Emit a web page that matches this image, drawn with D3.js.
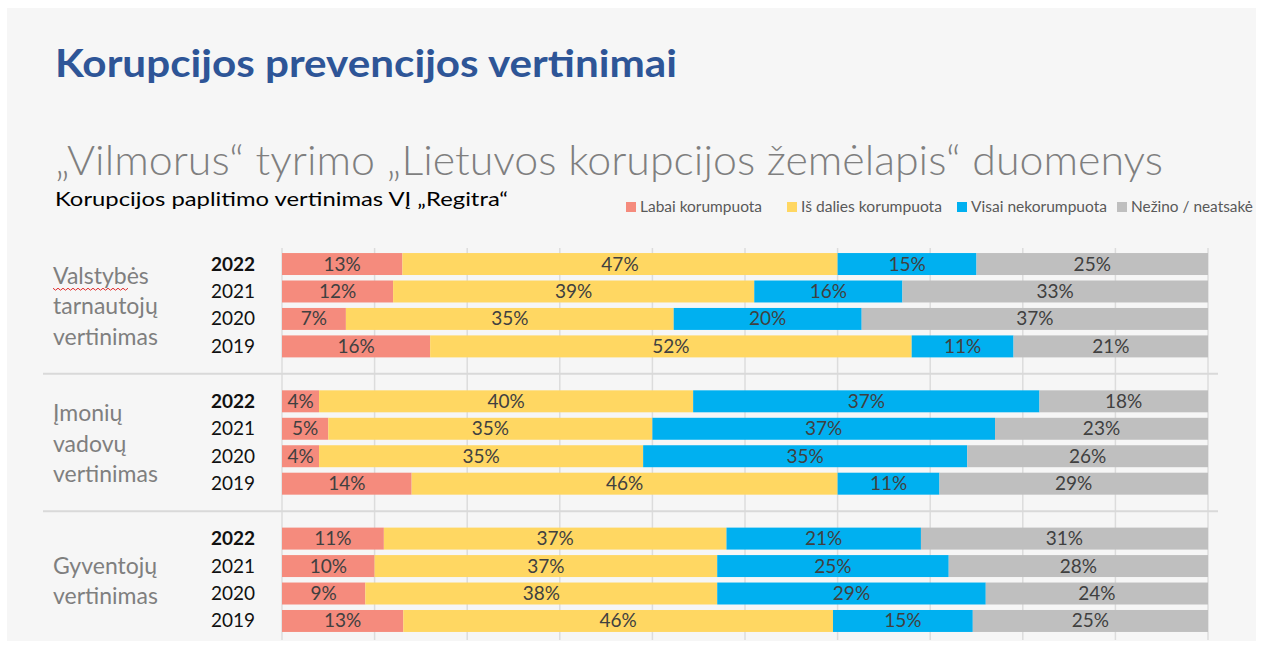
<!DOCTYPE html>
<html><head><meta charset="utf-8">
<script src="https://cdn.jsdelivr.net/npm/d3@7"></script>
<style>
html,body{margin:0;padding:0;background:#fff;}
svg{display:block;font-family:Lato,"Open Sans",sans-serif;}
</style>
</head><body>
<svg id="chart" width="1263" height="645"></svg>
<script>
// ---- data ----
const titleText = "Korupcijos prevencijos vertinimai";
const subtitleText = "„Vilmorus“ tyrimo „Lietuvos korupcijos žemėlapis“ duomenys";
const chartTitle = "Korupcijos paplitimo vertinimas VĮ „Regitra“";
const groupLabels = [["Valstybės","tarnautojų","vertinimas"],["Įmonių","vadovų","vertinimas"],["Gyventojų","vertinimas"]];
const years = ["2022","2021","2020","2019"];
const seriesNames = ["Labai korumpuota","Iš dalies korumpuota","Visai nekorumpuota","Nežino / neatsakė"];
// values per group, per year (2022, 2021, 2020, 2019)
const labaiKorumpuota = [[13,12,6.9,16],[4,5,4,14],[11,10,9,13.1]];
const isDaliesKorumpuota = [[47,39,35.4,52],[40.4,35,35,46],[37,37,38,46.4]];
const visaiNekorumpuota = [[15,16,20.3,11],[37.4,37,35,11],[21,25,29,15.1]];
const nezinoNeatsake = [[25,33,37.4,21],[18.2,23,26,29],[31,28,24,25.4]];
const gridTicks = [0,10,20,30,40,50,60,70,80,90,100];

const colors = ["#F58B7D","#FFD762","#00B0F0","#BFBFBF"];
const seriesData = [labaiKorumpuota,isDaliesKorumpuota,visaiNekorumpuota,nezinoNeatsake];

// ---- layout ----
const svg = d3.select("#chart");
svg.append("rect").attr("x",7).attr("y",8).attr("width",1249).attr("height",633).attr("fill","#F6F6F6");

// slots: 4 rows, gap, 4 rows, gap, 4 rows
const slots = [];
groupLabels.forEach((g,gi)=>{
  years.forEach(y=>slots.push(`g${gi}-${y}`));
  if(gi<groupLabels.length-1) slots.push(`gap${gi}`);
});
const y = d3.scaleBand().domain(slots).range([250.3,634.7]).paddingInner(0.2).paddingOuter(0.1);
const x = d3.scaleLinear().domain([0,100]).range([282,1208]);

// gridlines
svg.append("g").selectAll("line").data(gridTicks).join("line")
  .attr("x1",d=>x(d)).attr("x2",d=>x(d)).attr("y1",248).attr("y2",640)
  .attr("stroke","#DCDCDC").attr("stroke-width",1.5);

// group separators
svg.append("g").selectAll("line").data(groupLabels.slice(0,-1).map((g,i)=>`gap${i}`)).join("line")
  .attr("x1",43).attr("x2",1218)
  .attr("y1",d=>y(d)+y.bandwidth()/2).attr("y2",d=>y(d)+y.bandwidth()/2)
  .attr("stroke","#D9D9D9").attr("stroke-width",2);

// rows
const rows = [];
groupLabels.forEach((g,gi)=>{
  years.forEach((yr,yi)=>{
    let acc=0;
    const segs = seriesData.map((s,si)=>{
      const v=s[gi][yi]; const seg={x0:acc,x1:acc+v,v,si}; acc+=v; return seg;
    });
    rows.push({key:`g${gi}-${yr}`,year:yr,yi,segs});
  });
});

const rowG = svg.append("g").selectAll("g").data(rows).join("g")
  .attr("transform",d=>`translate(0,${y(d.key)})`);
rowG.selectAll("rect").data(d=>d.segs).join("rect")
  .attr("x",d=>x(d.x0)).attr("width",d=>x(d.x1)-x(d.x0))
  .attr("y",0).attr("height",y.bandwidth()).attr("fill",d=>colors[d.si]);
rowG.selectAll("text.val").data(d=>d.segs).join("text").attr("class","val")
  .attr("x",d=>(x(d.x0)+x(d.x1))/2).attr("y",y.bandwidth()/2+6.5)
  .attr("text-anchor","middle").attr("font-size",19).attr("fill","#404040")
  .text(d=>Math.round(d.v)+"%");
rowG.append("text").attr("x",255).attr("y",y.bandwidth()/2+6.5)
  .attr("text-anchor","end").attr("font-size",19)
  .attr("font-weight",d=>d.yi===0?700:400).attr("fill","#111")
  .text(d=>d.year);

// group labels
groupLabels.forEach((lines,gi)=>{
  const top = y(`g${gi}-${years[0]}`)+y.bandwidth()/2;
  const bot = y(`g${gi}-${years[years.length-1]}`)+y.bandwidth()/2;
  const mid = (top+bot)/2+9;
  const sp = 30.5;
  const start = mid - sp*(lines.length-1)/2;
  const t = svg.append("text").attr("font-size",23).attr("fill","#7F7F7F");
  lines.forEach((l,li)=>t.append("tspan").attr("x",53).attr("y",start+li*sp).text(l));
  if(gi===0){
    // spell-check squiggle under first word
    const yy = start+5, pts=[];
    for(let xx=53, k=0; xx<=128; xx+=2.5, k++) pts.push([xx, yy+(k%2?1.5:-0.5)]);
    svg.append("path").attr("d",d3.line()(pts)).attr("fill","none").attr("stroke","#E03030").attr("stroke-width",1);
  }
});

// titles
svg.append("text").attr("x",55).attr("y",77).attr("font-size",38).attr("font-weight",700)
  .attr("fill","#2E5597").attr("textLength",622).attr("lengthAdjust","spacingAndGlyphs").text(titleText);
svg.append("text").attr("x",55).attr("y",175).attr("font-size",42).attr("font-weight",300)
  .attr("fill","#7F7F7F").attr("textLength",1108).attr("lengthAdjust","spacingAndGlyphs").text(subtitleText);
svg.append("text").attr("x",55).attr("y",206).attr("font-size",20)
  .attr("fill","#000").attr("textLength",453).attr("lengthAdjust","spacingAndGlyphs").text(chartTitle);

// legend
const legX = [626,787,957,1117];
const legW = [122,141,136,122];
const leg = svg.append("g").selectAll("g").data(seriesNames).join("g")
  .attr("transform",(d,i)=>`translate(${legX[i]},0)`);
leg.append("rect").attr("x",0).attr("y",202).attr("width",10).attr("height",10).attr("fill",(d,i)=>colors[i]);
leg.append("text").attr("x",14).attr("y",212).attr("font-size",14.5).attr("fill","#595959")
  .attr("textLength",(d,i)=>legW[i]).attr("lengthAdjust","spacingAndGlyphs").text(d=>d);
</script>
</body></html>
